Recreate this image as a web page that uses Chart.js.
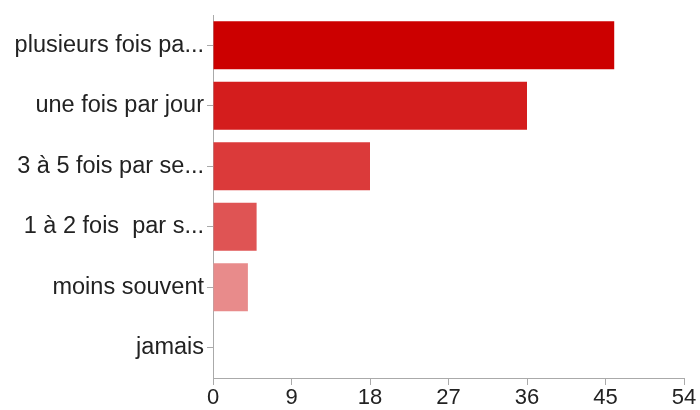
<!DOCTYPE html>
<html>
<head>
<meta charset="utf-8">
<script src="https://cdn.jsdelivr.net/npm/chart.js@4"></script>
<style>
html,body{margin:0;padding:0;background:#fff;}
#wrap{width:700px;height:410px;position:relative;}
</style>
</head>
<body>
<div id="wrap"><canvas id="c" width="700" height="410"></canvas></div>
<script>
const categories = ["plusieurs fois pa...", "une fois par jour", "3 à 5 fois par se...", "1 à 2 fois  par s...", "moins souvent", "jamais"];
const values = [46, 36, 18, 5, 4, 0];
const barColors = ["#cc0000", "#d41d1d", "#db3a3a", "#df5454", "#e88b8b", "#f0b0b0"];
const xTicks = [0, 9, 18, 27, 36, 45, 54];

const FONT = "'Liberation Sans', Arial, Helvetica, sans-serif";

new Chart(document.getElementById('c'), {
  type: 'bar',
  data: {
    labels: categories,
    datasets: [{
      data: values,
      backgroundColor: barColors,
      borderWidth: 0,
      categoryPercentage: 0.795,
      barPercentage: 1
    }]
  },
  options: {
    indexAxis: 'y',
    responsive: false,
    animation: false,
    layout: { padding: { top: 15, right: 16, left: 0, bottom: 0 } },
    plugins: { legend: { display: false }, tooltip: { enabled: false } },
    scales: {
      x: {
        min: xTicks[0],
        max: xTicks[xTicks.length - 1],
        afterBuildTicks: (s) => { s.ticks = xTicks.map(v => ({ value: v })); },
        afterFit: (s) => { s.height = 32; },
        grid: { display: true, drawOnChartArea: false, drawTicks: true, tickLength: 7, color: '#aaaaaa', lineWidth: 1 },
        border: { display: true, color: '#aaaaaa', width: 1 },
        ticks: { color: '#222222', font: { family: FONT, size: 22 }, padding: 0, maxRotation: 0 }
      },
      y: {
        afterFit: (s) => { s.width = 213; s.paddingTop = 0; s.paddingBottom = 0; },
        grid: { display: true, offset: false, drawOnChartArea: false, drawTicks: true, tickLength: 6, color: '#aaaaaa', lineWidth: 1 },
        border: { display: true, color: '#aaaaaa', width: 1 },
        ticks: { color: '#222222', font: { family: FONT, size: 23.5 }, padding: 3, autoSkip: false }
      }
    }
  }
});
</script>
</body>
</html>
